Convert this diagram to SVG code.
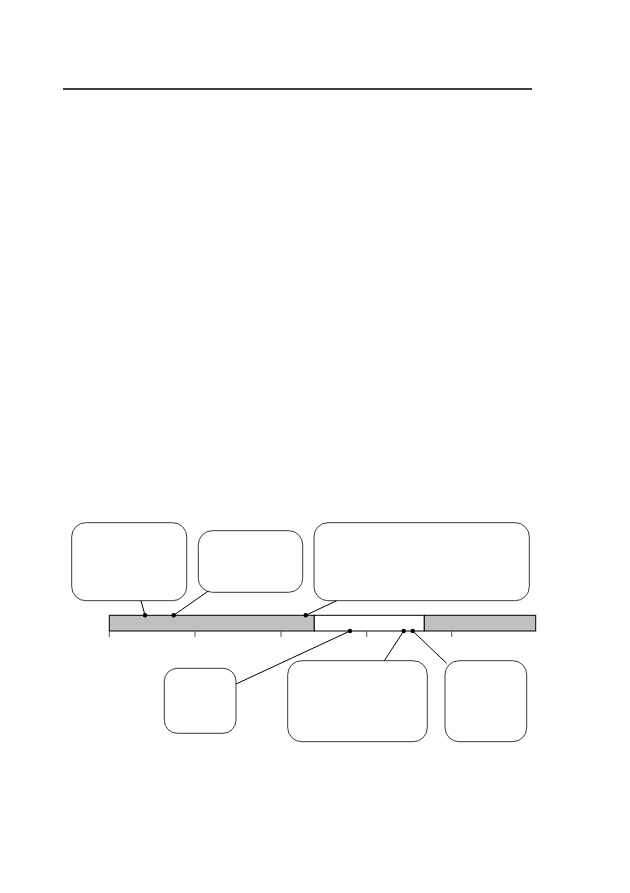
<svg xmlns="http://www.w3.org/2000/svg" width="630" height="893" viewBox="0 0 630 893">
<style>
.box{fill:#fff;stroke:#3a3a3a;stroke-width:1}
.con{stroke:#000;stroke-width:1;fill:none}
.dot{fill:#000}
.bar{stroke:#000;stroke-width:1}
.tick{stroke:#555;stroke-width:1}
</style>
<rect width="630" height="893" fill="#fff"/>
<line x1="63" y1="89" x2="532" y2="89" stroke="#000" stroke-width="1.3"/>
<g id="timeline">
<rect class="bar" x="109.3" y="615.3" width="205" height="15.7" fill="#c0c0c0"/>
<rect class="bar" x="314.3" y="615.3" width="110" height="15.7" fill="#fff"/>
<rect class="bar" x="424.3" y="615.3" width="111.4" height="15.7" fill="#c0c0c0"/>
<line class="tick" x1="109.3" y1="631" x2="109.3" y2="637"/>
<line class="tick" x1="195" y1="631" x2="195" y2="637"/>
<line class="tick" x1="281" y1="631" x2="281" y2="637"/>
<line class="tick" x1="366.7" y1="631" x2="366.7" y2="637"/>
<line class="tick" x1="451.7" y1="631" x2="451.7" y2="637"/>
</g>
<g id="node1"><rect class="box" x="71.7" y="522.7" width="115" height="78" rx="14"/></g>
<g id="node2"><rect class="box" x="198.3" y="530.7" width="104.4" height="61.6" rx="14"/></g>
<g id="node3"><rect class="box" x="314" y="522.7" width="215.3" height="78" rx="14"/></g>
<g id="node4"><rect class="box" x="164.3" y="668.3" width="71.7" height="65" rx="13"/></g>
<g id="node5"><rect class="box" x="287.7" y="660.7" width="139.6" height="81" rx="14"/></g>
<g id="node6"><rect class="box" x="445" y="660.7" width="81.7" height="81" rx="14"/></g>
<g id="connectors">
<line class="con" x1="141" y1="600.7" x2="145" y2="615.3"/>
<line class="con" x1="208.3" y1="591" x2="173.7" y2="615.3"/>
<line class="con" x1="336.7" y1="600.7" x2="305.7" y2="615.3"/>
<line class="con" x1="350" y1="631" x2="236" y2="684"/>
<line class="con" x1="403.7" y1="631" x2="384.3" y2="660.7"/>
<line class="con" x1="412.7" y1="631" x2="446.7" y2="663.3"/>
<circle class="dot" cx="145" cy="615.3" r="2.2"/>
<circle class="dot" cx="173.7" cy="615.3" r="2.2"/>
<circle class="dot" cx="305.7" cy="615.3" r="2.2"/>
<circle class="dot" cx="350" cy="631" r="2.2"/>
<circle class="dot" cx="403.7" cy="631" r="2.2"/>
<circle class="dot" cx="412.7" cy="631" r="2.2"/>
</g>
</svg>
